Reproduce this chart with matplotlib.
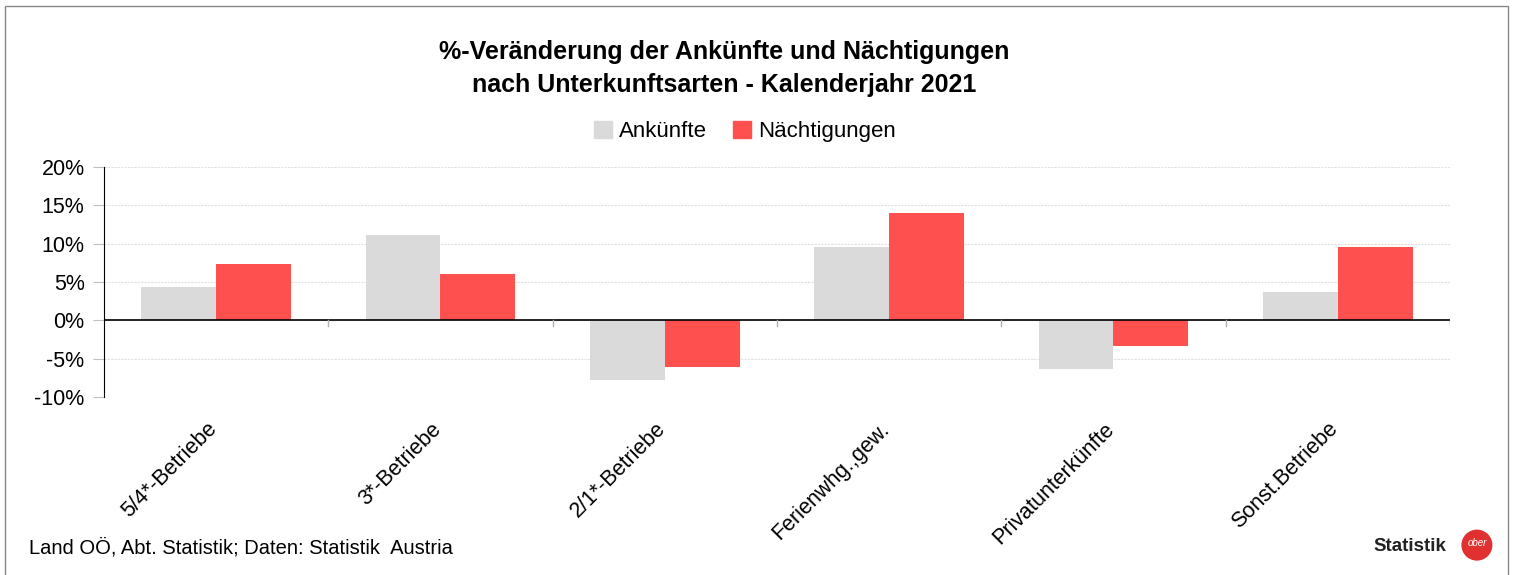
import matplotlib.pyplot as plt
import matplotlib.patches as mpatches
import numpy as np

plt.rcParams['font.family'] = ['Liberation Sans', 'DejaVu Sans']

categories = ["5/4*-Betriebe", "3*-Betriebe", "2/1*-Betriebe",
              "Ferienwhg.,gew.", "Privatunterkünfte", "Sonst.Betriebe"]
ankuenfte = [4.3, 11.1, -7.8, 9.6, -6.4, 3.65]
naechtigungen = [7.3, 6.1, -6.1, 14.0, -3.4, 9.6]
yticks = [-10, -5, 0, 5, 10, 15, 20]

fig = plt.figure(figsize=(15.14, 5.75), dpi=100)
ax = fig.add_axes([0.0687, 0.3096, 0.8890, 0.4000])

x = np.arange(len(categories))
w = 1 / 3
ax.bar(x - w / 2, ankuenfte, w, color='#DADADA', label='Ankünfte', zorder=2)
ax.bar(x + w / 2, naechtigungen, w, color='#FF5050', label='Nächtigungen', zorder=2)

ax.set_xlim(-0.5, len(categories) - 0.5)
ax.set_ylim(-10, 20)
ax.set_yticks(yticks)
ax.set_yticklabels([f"{v}%" for v in yticks], fontsize=15.5)
ax.yaxis.grid(True, color='#E0E0E0', linestyle=(0, (2, 1)), linewidth=0.8, zorder=0)
ax.tick_params(axis='y', length=8, color='#C0C0C0', pad=6)

for s in ['top', 'right', 'bottom']:
    ax.spines[s].set_visible(False)
ax.spines['left'].set_color('black')
ax.axhline(0, color='black', linewidth=1.2, zorder=3)

# category boundary ticks below the zero line
ax.set_xticks([])
for b in np.arange(0.5, len(categories), 1.0):
    ax.plot([b, b], [0, -0.8], color='#B0B0B0', linewidth=1, zorder=3)

for i, c in enumerate(categories):
    ax.text(i - 0.045, -12.8, c, rotation=45, ha='right', va='top',
            fontsize=15.5, rotation_mode='anchor')

fig.text(0.478, 0.881, "%-Veränderung der Ankünfte und Nächtigungen\nnach Unterkunftsarten - Kalenderjahr 2021",
         ha='center', va='center', fontsize=18, fontweight='bold', linespacing=1.45)

handles = [mpatches.Patch(color='#DADADA'), mpatches.Patch(color='#FF5050')]
fig.legend(handles, ['Ankünfte', 'Nächtigungen'], loc='center', bbox_to_anchor=(0.492, 0.771),
           ncol=2, frameon=False, fontsize=16, handlelength=0.8, handleheight=0.8,
           handletextpad=0.3, columnspacing=1.2)

fig.text(0.019, 0.047, "Land OÖ, Abt. Statistik; Daten: Statistik  Austria", fontsize=14.5, va='center')

# logo
fig.text(0.907, 0.05, "Statistik", fontsize=13.5, fontweight='bold', va='center', color='#222222')
fig.patches.append(mpatches.Ellipse((0.9755, 0.052), 0.0205, 0.054, transform=fig.transFigure,
                                    facecolor='#E03030', edgecolor='none'))
fig.text(0.9755, 0.056, "ober", fontsize=7, style='italic', color='white', ha='center', va='center')

# outer frame
fig.patches.append(mpatches.Rectangle((0.003, -0.01), 0.993, 1.003 - 0.003, transform=fig.transFigure,
                                      fill=False, edgecolor='#888888', linewidth=1))

fig.savefig('out.png', dpi=100)
